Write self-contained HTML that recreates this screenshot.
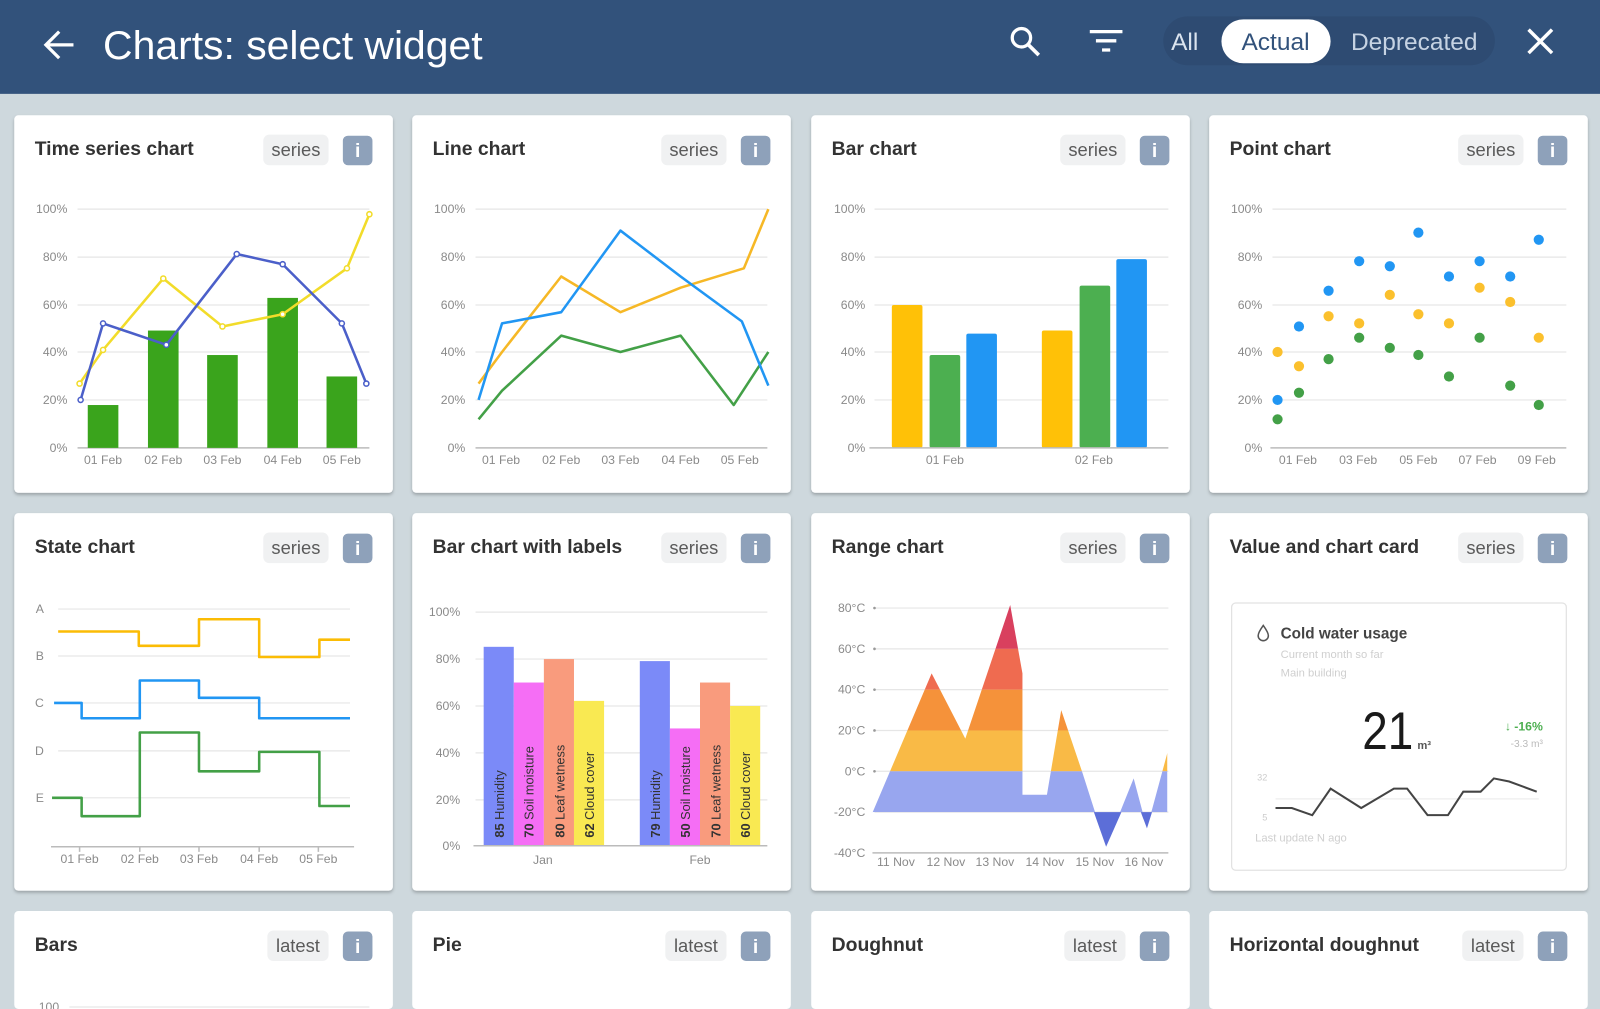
<!DOCTYPE html>
<html><head><meta charset="utf-8"><style>
html,body{margin:0;padding:0;width:1600px;height:1009px;overflow:hidden;background:#ced8dd}
svg{display:block;position:absolute;left:0;top:0}
text{font-family:"Liberation Sans",sans-serif}
.t{font-size:19px;font-weight:bold;fill:#333}
.chip{fill:#f0f1f2}
.ct{font-size:18px;fill:#5a5a5a;text-anchor:middle}
.inf{fill:#8ea1ba}
.it{font-size:19px;fill:#fff;text-anchor:middle;font-weight:bold}
.yl{font-size:12px;fill:#8a8a8a;text-anchor:end}
.xl{font-size:12px;fill:#8a8a8a;text-anchor:middle}
.g{stroke:#e6e6e6;stroke-width:1.2}
.ax{stroke:#bbb;stroke-width:1.5}
.card{fill:#fff}
.ln{fill:none;stroke-width:2.5;stroke-linejoin:round}
.bl{font-size:12.5px;fill:#333}
</style></head><body>
<svg width="1600" height="1009" viewBox="0 0 1568 989" preserveAspectRatio="none">
<defs>
<filter id="sh" x="-5%" y="-5%" width="110%" height="112%"><feDropShadow dx="0" dy="2" stdDeviation="1.5" flood-color="#000" flood-opacity="0.25"/></filter>
<clipPath id="rc"><polygon points="854,799 913,660 946,724 990,593 1002,660 1002,779 1026,779 1040,696 1061,758 1084,830 1111,763 1124,812 1144,738 1144,796 854,796"/></clipPath>
</defs>
<rect width="1568" height="989" fill="#ced8dd"/>
<rect x="0" y="0" width="1568" height="92" fill="#32527b"/>
<path d="M72,44 H46 M58,31 L45,44 L58,57" stroke="#fff" stroke-width="3.2" fill="none"/>
<text x="101" y="58" font-size="39" fill="#fff" textLength="372" lengthAdjust="spacingAndGlyphs">Charts: select widget</text>
<circle cx="1001" cy="37" r="9" stroke="#fff" stroke-width="3.2" fill="none"/>
<path d="M1008,44 L1018,54" stroke="#fff" stroke-width="3.6"/>
<path d="M1068,31 H1100 M1074,40 H1094 M1080,49 H1088" stroke="#fff" stroke-width="3.2"/>
<rect x="1140" y="16" width="325" height="48" rx="24" fill="#2e4b72"/>
<text x="1161" y="49" font-size="24" fill="#dbe4ef" text-anchor="middle">All</text>
<rect x="1197" y="19" width="107" height="43" rx="21.5" fill="#fff"/>
<text x="1250" y="49" font-size="24" fill="#32527b" text-anchor="middle">Actual</text>
<text x="1386" y="49" font-size="24" fill="#c6d3e3" text-anchor="middle">Deprecated</text>
<path d="M1498,29 L1521,52 M1521,29 L1498,52" stroke="#fff" stroke-width="3.4"/>

<g filter="url(#sh)">
<rect class="card" x="14" y="113" width="371" height="370" rx="4"/>
<rect class="card" x="404" y="113" width="371" height="370" rx="4"/>
<rect class="card" x="795" y="113" width="371" height="370" rx="4"/>
<rect class="card" x="1185" y="113" width="371" height="370" rx="4"/>
<rect class="card" x="14" y="503" width="371" height="370" rx="4"/>
<rect class="card" x="404" y="503" width="371" height="370" rx="4"/>
<rect class="card" x="795" y="503" width="371" height="370" rx="4"/>
<rect class="card" x="1185" y="503" width="371" height="370" rx="4"/>
</g>
<rect class="card" x="14" y="893" width="371" height="96" rx="4"/>
<rect class="card" x="404" y="893" width="371" height="96" rx="4"/>
<rect class="card" x="795" y="893" width="371" height="96" rx="4"/>
<rect class="card" x="1185" y="893" width="371" height="96" rx="4"/>

<g transform="translate(14,113)"><text class="t" x="20" y="39">Time series chart</text><rect class="chip" x="244" y="19" width="64" height="30" rx="6"/><text class="ct" x="276" y="40">series</text><rect class="inf" x="322" y="20" width="29" height="29" rx="5"/><text class="it" x="336.5" y="41">i</text></g>
<g transform="translate(404,113)"><text class="t" x="20" y="39">Line chart</text><rect class="chip" x="244" y="19" width="64" height="30" rx="6"/><text class="ct" x="276" y="40">series</text><rect class="inf" x="322" y="20" width="29" height="29" rx="5"/><text class="it" x="336.5" y="41">i</text></g>
<g transform="translate(795,113)"><text class="t" x="20" y="39">Bar chart</text><rect class="chip" x="244" y="19" width="64" height="30" rx="6"/><text class="ct" x="276" y="40">series</text><rect class="inf" x="322" y="20" width="29" height="29" rx="5"/><text class="it" x="336.5" y="41">i</text></g>
<g transform="translate(1185,113)"><text class="t" x="20" y="39">Point chart</text><rect class="chip" x="244" y="19" width="64" height="30" rx="6"/><text class="ct" x="276" y="40">series</text><rect class="inf" x="322" y="20" width="29" height="29" rx="5"/><text class="it" x="336.5" y="41">i</text></g>
<g transform="translate(14,503)"><text class="t" x="20" y="39">State chart</text><rect class="chip" x="244" y="19" width="64" height="30" rx="6"/><text class="ct" x="276" y="40">series</text><rect class="inf" x="322" y="20" width="29" height="29" rx="5"/><text class="it" x="336.5" y="41">i</text></g>
<g transform="translate(404,503)"><text class="t" x="20" y="39">Bar chart with labels</text><rect class="chip" x="244" y="19" width="64" height="30" rx="6"/><text class="ct" x="276" y="40">series</text><rect class="inf" x="322" y="20" width="29" height="29" rx="5"/><text class="it" x="336.5" y="41">i</text></g>
<g transform="translate(795,503)"><text class="t" x="20" y="39">Range chart</text><rect class="chip" x="244" y="19" width="64" height="30" rx="6"/><text class="ct" x="276" y="40">series</text><rect class="inf" x="322" y="20" width="29" height="29" rx="5"/><text class="it" x="336.5" y="41">i</text></g>
<g transform="translate(1185,503)"><text class="t" x="20" y="39">Value and chart card</text><rect class="chip" x="244" y="19" width="64" height="30" rx="6"/><text class="ct" x="276" y="40">series</text><rect class="inf" x="322" y="20" width="29" height="29" rx="5"/><text class="it" x="336.5" y="41">i</text></g>
<g transform="translate(14,893)"><text class="t" x="20" y="39">Bars</text><rect class="chip" x="248" y="19" width="60" height="30" rx="6"/><text class="ct" x="278" y="40">latest</text><rect class="inf" x="322" y="20" width="29" height="29" rx="5"/><text class="it" x="336.5" y="41">i</text></g>
<g transform="translate(404,893)"><text class="t" x="20" y="39">Pie</text><rect class="chip" x="248" y="19" width="60" height="30" rx="6"/><text class="ct" x="278" y="40">latest</text><rect class="inf" x="322" y="20" width="29" height="29" rx="5"/><text class="it" x="336.5" y="41">i</text></g>
<g transform="translate(795,893)"><text class="t" x="20" y="39">Doughnut</text><rect class="chip" x="248" y="19" width="60" height="30" rx="6"/><text class="ct" x="278" y="40">latest</text><rect class="inf" x="322" y="20" width="29" height="29" rx="5"/><text class="it" x="336.5" y="41">i</text></g>
<g transform="translate(1185,893)"><text class="t" x="20" y="39">Horizontal doughnut</text><rect class="chip" x="248" y="19" width="60" height="30" rx="6"/><text class="ct" x="278" y="40">latest</text><rect class="inf" x="322" y="20" width="29" height="29" rx="5"/><text class="it" x="336.5" y="41">i</text></g>

<g>
<path class="g" d="M76,205H362M76,252H362M76,299H362M76,345H362M76,392H362"/>
<path class="ax" d="M76,439H362"/>
<text class="yl" x="66" y="209">100%</text><text class="yl" x="66" y="256">80%</text><text class="yl" x="66" y="303">60%</text><text class="yl" x="66" y="349">40%</text><text class="yl" x="66" y="396">20%</text><text class="yl" x="66" y="443">0%</text>
<g fill="#3aa41c"><rect x="86" y="397" width="30" height="42"/><rect x="145" y="324" width="30" height="115"/><rect x="203" y="348" width="30" height="91"/><rect x="262" y="292" width="30" height="147"/><rect x="320" y="369" width="30" height="70"/></g>
<polyline class="ln" stroke="#f2dc2a" points="78,376 101,343 160,273 218,320 277,308 340,263 362,210"/>
<polyline class="ln" stroke="#4b5fc9" points="79,392 101,317 163,338 232,249 277,259 335,317 359,376"/>
<g fill="#fff" stroke="#f2dc2a" stroke-width="1.5"><circle cx="78" cy="376" r="2.5"/><circle cx="101" cy="343" r="2.5"/><circle cx="160" cy="273" r="2.5"/><circle cx="218" cy="320" r="2.5"/><circle cx="277" cy="308" r="2.5"/><circle cx="340" cy="263" r="2.5"/><circle cx="362" cy="210" r="2.5"/></g>
<g fill="#fff" stroke="#4b5fc9" stroke-width="1.5"><circle cx="79" cy="392" r="2.5"/><circle cx="101" cy="317" r="2.5"/><circle cx="163" cy="338" r="2.5"/><circle cx="232" cy="249" r="2.5"/><circle cx="277" cy="259" r="2.5"/><circle cx="335" cy="317" r="2.5"/><circle cx="359" cy="376" r="2.5"/></g>
<text class="xl" x="101" y="455">01 Feb</text><text class="xl" x="160" y="455">02 Feb</text><text class="xl" x="218" y="455">03 Feb</text><text class="xl" x="277" y="455">04 Feb</text><text class="xl" x="335" y="455">05 Feb</text>
</g>

<g>
<path class="g" d="M466,205H752M466,252H752M466,299H752M466,345H752M466,392H752"/>
<path class="ax" d="M466,439H752"/>
<text class="yl" x="456" y="209">100%</text><text class="yl" x="456" y="256">80%</text><text class="yl" x="456" y="303">60%</text><text class="yl" x="456" y="349">40%</text><text class="yl" x="456" y="396">20%</text><text class="yl" x="456" y="443">0%</text>
<polyline class="ln" stroke="#f6b826" points="469,376 492,345 550,271 608,306 667,282 729,263 753,205"/>
<polyline class="ln" stroke="#43a047" points="469,411 492,383 550,329 608,345 667,329 719,397 753,345"/>
<polyline class="ln" stroke="#2196f3" points="469,392 492,317 550,306 608,226 667,271 727,315 753,378"/>
<text class="xl" x="491" y="455">01 Feb</text><text class="xl" x="550" y="455">02 Feb</text><text class="xl" x="608" y="455">03 Feb</text><text class="xl" x="667" y="455">04 Feb</text><text class="xl" x="725" y="455">05 Feb</text>
</g>

<g>
<path class="g" d="M857,205H1145M857,252H1145M857,299H1145M857,345H1145M857,392H1145"/>
<text class="yl" x="848" y="209">100%</text><text class="yl" x="848" y="256">80%</text><text class="yl" x="848" y="303">60%</text><text class="yl" x="848" y="349">40%</text><text class="yl" x="848" y="396">20%</text><text class="yl" x="848" y="443">0%</text>
<rect x="874" y="299" width="30" height="140" rx="2" fill="#ffc107"/>
<rect x="911" y="348" width="30" height="91" rx="2" fill="#4caf50"/>
<rect x="947" y="327" width="30" height="112" rx="2" fill="#2196f3"/>
<rect x="1021" y="324" width="30" height="115" rx="2" fill="#ffc107"/>
<rect x="1058" y="280" width="30" height="159" rx="2" fill="#4caf50"/>
<rect x="1094" y="254" width="30" height="185" rx="2" fill="#2196f3"/>
<path class="ax" d="M852,439H1145"/>
<text class="xl" x="926" y="455">01 Feb</text><text class="xl" x="1072" y="455">02 Feb</text>
</g>

<g>
<path class="g" d="M1247,205H1535M1247,252H1535M1247,299H1535M1247,345H1535M1247,392H1535"/>
<path class="ax" d="M1245,439H1535"/>
<text class="yl" x="1237" y="209">100%</text><text class="yl" x="1237" y="256">80%</text><text class="yl" x="1237" y="303">60%</text><text class="yl" x="1237" y="349">40%</text><text class="yl" x="1237" y="396">20%</text><text class="yl" x="1237" y="443">0%</text>
<g fill="#2196f3"><circle cx="1252" cy="392" r="5"/><circle cx="1273" cy="320" r="5"/><circle cx="1302" cy="285" r="5"/><circle cx="1332" cy="256" r="5"/><circle cx="1362" cy="261" r="5"/><circle cx="1390" cy="228" r="5"/><circle cx="1420" cy="271" r="5"/><circle cx="1450" cy="256" r="5"/><circle cx="1480" cy="271" r="5"/><circle cx="1508" cy="235" r="5"/></g>
<g fill="#fbc02d"><circle cx="1252" cy="345" r="5"/><circle cx="1273" cy="359" r="5"/><circle cx="1302" cy="310" r="5"/><circle cx="1332" cy="317" r="5"/><circle cx="1362" cy="289" r="5"/><circle cx="1390" cy="308" r="5"/><circle cx="1420" cy="317" r="5"/><circle cx="1450" cy="282" r="5"/><circle cx="1480" cy="296" r="5"/><circle cx="1508" cy="331" r="5"/></g>
<g fill="#43a047"><circle cx="1252" cy="411" r="5"/><circle cx="1273" cy="385" r="5"/><circle cx="1302" cy="352" r="5"/><circle cx="1332" cy="331" r="5"/><circle cx="1362" cy="341" r="5"/><circle cx="1390" cy="348" r="5"/><circle cx="1420" cy="369" r="5"/><circle cx="1450" cy="331" r="5"/><circle cx="1480" cy="378" r="5"/><circle cx="1508" cy="397" r="5"/></g>
<text class="xl" x="1272" y="455">01 Feb</text><text class="xl" x="1331" y="455">03 Feb</text><text class="xl" x="1390" y="455">05 Feb</text><text class="xl" x="1448" y="455">07 Feb</text><text class="xl" x="1506" y="455">09 Feb</text>
</g>

<g>
<path class="g" d="M57,597H343M57,643H343M57,689H343M57,736H343M57,782H343"/>
<path class="ax" d="M50,830H347M78,830v5M137,830v5M195,830v5M254,830v5M312,830v5"/>
<text class="yl" x="43" y="601">A</text><text class="yl" x="43" y="647">B</text><text class="yl" x="43" y="693">C</text><text class="yl" x="43" y="740">D</text><text class="yl" x="43" y="786">E</text>
<path class="ln" stroke="#fbbc05" d="M57,619H136V633H195V607H254V644H313V627H343"/>
<path class="ln" stroke="#2196f3" d="M53,689H80V704H137V667H195V684H254V704H343"/>
<path class="ln" stroke="#43a047" d="M51,782H80V800H137V718H195V756H254V737H313V790H343"/>
<text class="xl" x="78" y="846">01 Feb</text><text class="xl" x="137" y="846">02 Feb</text><text class="xl" x="195" y="846">03 Feb</text><text class="xl" x="254" y="846">04 Feb</text><text class="xl" x="312" y="846">05 Feb</text>
</g>

<g>
<path class="g" d="M466,600H752M466,646H752M466,692H752M466,738H752M466,784H752"/>
<text class="yl" x="451" y="604">100%</text><text class="yl" x="451" y="650">80%</text><text class="yl" x="451" y="696">60%</text><text class="yl" x="451" y="742">40%</text><text class="yl" x="451" y="788">20%</text><text class="yl" x="451" y="833">0%</text>
<rect x="474" y="634" width="29.5" height="195" fill="#7b8af8"/>
<rect x="503.5" y="669" width="29.5" height="160" fill="#f56ef5"/>
<rect x="533" y="646" width="29.5" height="183" fill="#f99b7d"/>
<rect x="562.5" y="687" width="29.5" height="142" fill="#f9e952"/>
<rect x="627" y="648" width="29.5" height="181" fill="#7b8af8"/>
<rect x="656.5" y="714" width="29.5" height="115" fill="#f56ef5"/>
<rect x="686" y="669" width="29.5" height="160" fill="#f99b7d"/>
<rect x="715.5" y="692" width="29.5" height="137" fill="#f9e952"/>
<path class="ax" d="M464,829H752"/>
<g class="bl">
<text transform="translate(494,821) rotate(-90)"><tspan font-weight="bold">85</tspan> Humidity</text>
<text transform="translate(523,821) rotate(-90)"><tspan font-weight="bold">70</tspan> Soil moisture</text>
<text transform="translate(553,821) rotate(-90)"><tspan font-weight="bold">80</tspan> Leaf wetness</text>
<text transform="translate(582,821) rotate(-90)"><tspan font-weight="bold">62</tspan> Cloud cover</text>
<text transform="translate(647,821) rotate(-90)"><tspan font-weight="bold">79</tspan> Humidity</text>
<text transform="translate(676,821) rotate(-90)"><tspan font-weight="bold">50</tspan> Soil moisture</text>
<text transform="translate(706,821) rotate(-90)"><tspan font-weight="bold">70</tspan> Leaf wetness</text>
<text transform="translate(735,821) rotate(-90)"><tspan font-weight="bold">60</tspan> Cloud cover</text>
</g>
<text class="xl" x="532" y="847">Jan</text><text class="xl" x="686" y="847">Feb</text>
</g>

<g>
<path class="g" d="M857,596H1145M857,636H1145M857,676H1145M857,716H1145M857,756H1145M857,796H1145"/>
<path class="ax" d="M855,836H1145"/>
<g fill="#999"><circle cx="857" cy="596" r="1.3"/><circle cx="857" cy="636" r="1.3"/><circle cx="857" cy="676" r="1.3"/><circle cx="857" cy="716" r="1.3"/><circle cx="857" cy="756" r="1.3"/></g>
<text class="yl" x="848" y="600">80°C</text><text class="yl" x="848" y="640">60°C</text><text class="yl" x="848" y="680">40°C</text><text class="yl" x="848" y="720">20°C</text><text class="yl" x="848" y="760">0°C</text><text class="yl" x="848" y="800">-20°C</text><text class="yl" x="848" y="840">-40°C</text>
<g clip-path="url(#rc)">
<rect x="850" y="580" width="300" height="56" fill="#d9405e"/>
<rect x="850" y="636" width="300" height="40" fill="#ef6b50"/>
<rect x="850" y="676" width="300" height="40" fill="#f5923a"/>
<rect x="850" y="716" width="300" height="40" fill="#f9ba46"/>
<rect x="850" y="756" width="300" height="40" fill="#98a6ef"/>
</g>
<polygon points="1072,796 1084,830 1099,796" fill="#5c6ed8"/>
<polygon points="1118,796 1124,812 1129,796" fill="#5c6ed8"/>
<text class="xl" x="878" y="849">11 Nov</text><text class="xl" x="927" y="849">12 Nov</text><text class="xl" x="975" y="849">13 Nov</text><text class="xl" x="1024" y="849">14 Nov</text><text class="xl" x="1073" y="849">15 Nov</text><text class="xl" x="1121" y="849">16 Nov</text>
</g>

<g>
<rect x="1207" y="591" width="328" height="262" rx="4" fill="#fff" stroke="#e2e2e2" stroke-width="1.2"/>
<path d="M1238,613 Q1233,620 1233,623 A5,5 0 0 0 1243,623 Q1243,620 1238,613Z" fill="none" stroke="#555" stroke-width="1.5"/>
<text x="1255" y="626" font-size="15" font-weight="bold" fill="#444">Cold water usage</text>
<text x="1255" y="645" font-size="11" fill="#cfcfcf">Current month so far</text>
<text x="1255" y="663" font-size="11" fill="#cfcfcf">Main building</text>
<text x="1335" y="734" font-size="52" fill="#1a1a1a" textLength="50" lengthAdjust="spacingAndGlyphs">21</text>
<text x="1389" y="734" font-size="11" font-weight="bold" fill="#555">m³</text>
<text x="1512" y="716" font-size="12" font-weight="bold" fill="#4caf50" text-anchor="end">↓ -16%</text>
<text x="1512" y="732" font-size="10" fill="#bbb" text-anchor="end">-3.3 m³</text>
<text x="1242" y="765" font-size="9" fill="#ccc" text-anchor="end">32</text>
<text x="1242" y="804" font-size="9" fill="#ccc" text-anchor="end">5</text>
<path d="M1250,783H1508" stroke="#eee" stroke-width="1.2"/>
<polyline fill="none" stroke="#444" stroke-width="2" points="1250,792 1266,792 1286,799 1304,773 1334,792 1366,773 1379,773 1399,799 1419,799 1434,776 1451,776 1464,763 1479,766 1506,776"/>
<text x="1230" y="825" font-size="11" fill="#cfcfcf">Last update N ago</text>
</g>

<text class="yl" x="58" y="991">100</text>
<path class="g" d="M68,987H362"/>
</svg>
</body></html>
